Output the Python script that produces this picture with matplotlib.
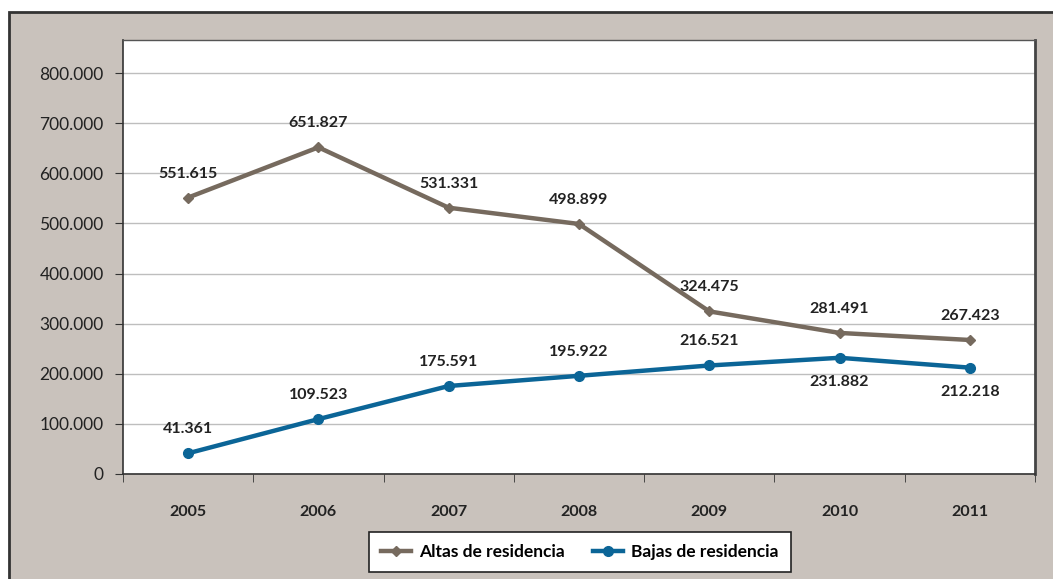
import matplotlib
matplotlib.use("Agg")
import matplotlib.pyplot as plt
from matplotlib.patches import Rectangle
from matplotlib.ticker import FuncFormatter

years = ["2005", "2006", "2007", "2008", "2009", "2010", "2011"]
altas = [551615, 651827, 531331, 498899, 324475, 281491, 267423]
bajas = [41361, 109523, 175591, 195922, 216521, 231882, 212218]
altas_labels = ["551.615", "651.827", "531.331", "498.899", "324.475", "281.491", "267.423"]
bajas_labels = ["41.361", "109.523", "175.591", "195.922", "216.521", "231.882", "212.218"]
bajas_below = [False, False, False, False, False, True, True]
yticks = [0, 100000, 200000, 300000, 400000, 500000, 600000, 700000, 800000]

FONT = ["Lato", "DejaVu Sans"]
plt.rcParams['font.family'] = FONT

W, H = 1053, 579
fig = plt.figure(figsize=(W / 100, H / 100), dpi=100)
fig.patch.set_facecolor("white")

# outer gray frame
frame = Rectangle((9 / W, -0.1), 1.2, 1 - 12 / H + 0.1, transform=fig.transFigure,
                  facecolor="#C9C2BC", edgecolor="#333333", linewidth=2, zorder=-10)
fig.add_artist(frame)

ax = fig.add_axes([123 / W, 1 - 474 / H, (1035 - 123) / W, (474 - 40) / H])
ax.set_zorder(1)
ax.set_facecolor("white")

x = list(range(len(years)))
c_altas = "#766A5E"
c_bajas = "#0B6597"

ax.plot(x, altas, color=c_altas, linewidth=3.2, marker="D", markersize=5,
        label="Altas de residencia", zorder=3)
ax.plot(x, bajas, color=c_bajas, linewidth=3.2, marker="o", markersize=7,
        label="Bajas de residencia", zorder=3)

for i in x:
    ax.annotate(altas_labels[i], (i, altas[i]), xytext=(0, 24), textcoords="offset pixels",
                ha="center", va="center", fontsize=11.5, fontweight="bold", color="#222222")
    off = -24 if bajas_below[i] else 24
    ax.annotate(bajas_labels[i], (i, bajas[i]), xytext=(0, off), textcoords="offset pixels",
                ha="center", va="center", fontsize=11.5, fontweight="bold", color="#222222")

ax.set_xlim(-0.5, len(years) - 0.5)
ax.set_ylim(0, 866000)
ax.set_yticks(yticks)
ax.yaxis.set_major_formatter(FuncFormatter(lambda v, p: f"{int(v):,}".replace(",", ".")))
ax.grid(axis="y", color="#BEBEBE", linewidth=1)
ax.set_axisbelow(True)

ax.set_xticks(x)
ax.set_xticklabels(years, fontweight="bold", fontsize=11.5, color="#222222")
ax.set_xticks([i - 0.5 for i in range(len(years) + 1)], minor=True)
ax.tick_params(axis="x", which="major", length=0, pad=22)
ax.tick_params(axis="x", which="minor", length=6, color="#333333", direction="out")
ax.tick_params(axis="y", length=6, color="#333333", labelsize=12.5, labelcolor="#222222", pad=8)

for s in ["left", "bottom"]:
    ax.spines[s].set_color("#333333")
    ax.spines[s].set_linewidth(1.2)
ax.spines["top"].set_color("#555555")
ax.spines["top"].set_linewidth(1)
ax.spines["right"].set_color("#444444")
ax.spines["right"].set_linewidth(2)

leg = fig.legend(loc="center", bbox_to_anchor=(580 / W, 1 - 552 / H), ncol=2,
                 frameon=True, fancybox=False, edgecolor="#222222", framealpha=1,
                 prop={"weight": "bold", "size": 12.5, "family": FONT},
                 handlelength=1.7, columnspacing=1.6, borderpad=0.7, handletextpad=0.5)
leg.get_frame().set_linewidth(1.2)
leg.set_zorder(5)

fig.savefig("out.png", dpi=100)
